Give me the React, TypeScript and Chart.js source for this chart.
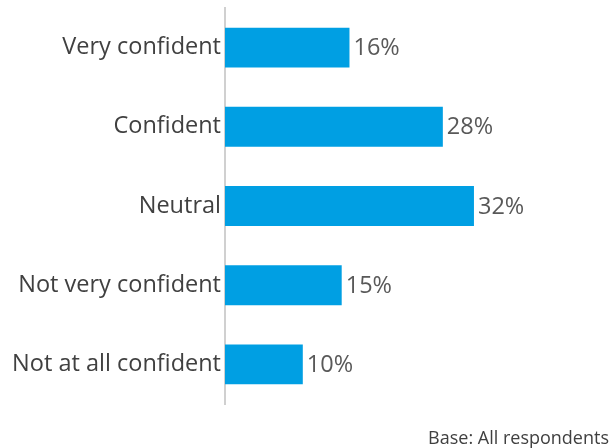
import React, { useEffect, useRef } from "react";
import { Chart, registerables } from "chart.js";

Chart.register(...registerables);

const categories = ["Very confident", "Confident", "Neutral", "Not very confident", "Not at all confident"];
const values = [16, 28, 32, 15, 10];
const baseNote = "Base: All respondents";

const FONT = "'Open Sans', 'DejaVu Sans', sans-serif";

const labelPlugin = {
  id: "valueLabels",
  afterDatasetsDraw(chart: any) {
    const ctx = chart.ctx;
    const meta = chart.getDatasetMeta(0);
    ctx.save();
    ctx.font = `23.5px ${FONT}`;
    ctx.fillStyle = "#595959";
    ctx.textAlign = "left";
    ctx.textBaseline = "middle";
    meta.data.forEach((bar: any, i: number) => {
      ctx.fillText(`${values[i]}%`, bar.x + 4, bar.y + 1);
    });
    ctx.font = `18px ${FONT}`;
    ctx.fillStyle = "#404040";
    ctx.textAlign = "right";
    ctx.textBaseline = "alphabetic";
    ctx.fillText(baseNote, chart.width - 5, chart.height - 4);
    ctx.restore();
  },
};

export default function App() {
  const ref = useRef<HTMLCanvasElement | null>(null);
  useEffect(() => {
    if (!ref.current) return;
    const chart = new Chart(ref.current, {
      type: "bar",
      data: {
        labels: categories,
        datasets: [
          {
            data: values,
            backgroundColor: "#009FE3",
            categoryPercentage: 1,
            barPercentage: 0.504,
          },
        ],
      },
      options: {
        indexAxis: "y",
        animation: false,
        responsive: false,
        layout: { padding: { top: 8, bottom: 44, left: 0, right: 0 } },
        plugins: { legend: { display: false }, tooltip: { enabled: false } },
        scales: {
          x: { display: false, min: 0, max: 50 },
          y: {
            grid: { display: false, drawTicks: false },
            border: { display: true, color: "#d0d0d0", width: 2 },
            ticks: {
              font: { family: FONT, size: 23.5 },
              color: "#404040",
              padding: 4,
            },
            afterFit(scale: any) {
              scale.width = 225;
              scale.paddingTop = 0;
              scale.paddingBottom = 0;
            },
          },
        },
      },
      plugins: [labelPlugin],
    });
    return () => chart.destroy();
  }, []);
  return (
    <div style={{ position: "fixed", left: 0, top: 0, width: 614, height: 448, background: "#fff" }}>
      <canvas ref={ref} width={614} height={448} style={{ width: 614, height: 448 }} />
    </div>
  );
}
